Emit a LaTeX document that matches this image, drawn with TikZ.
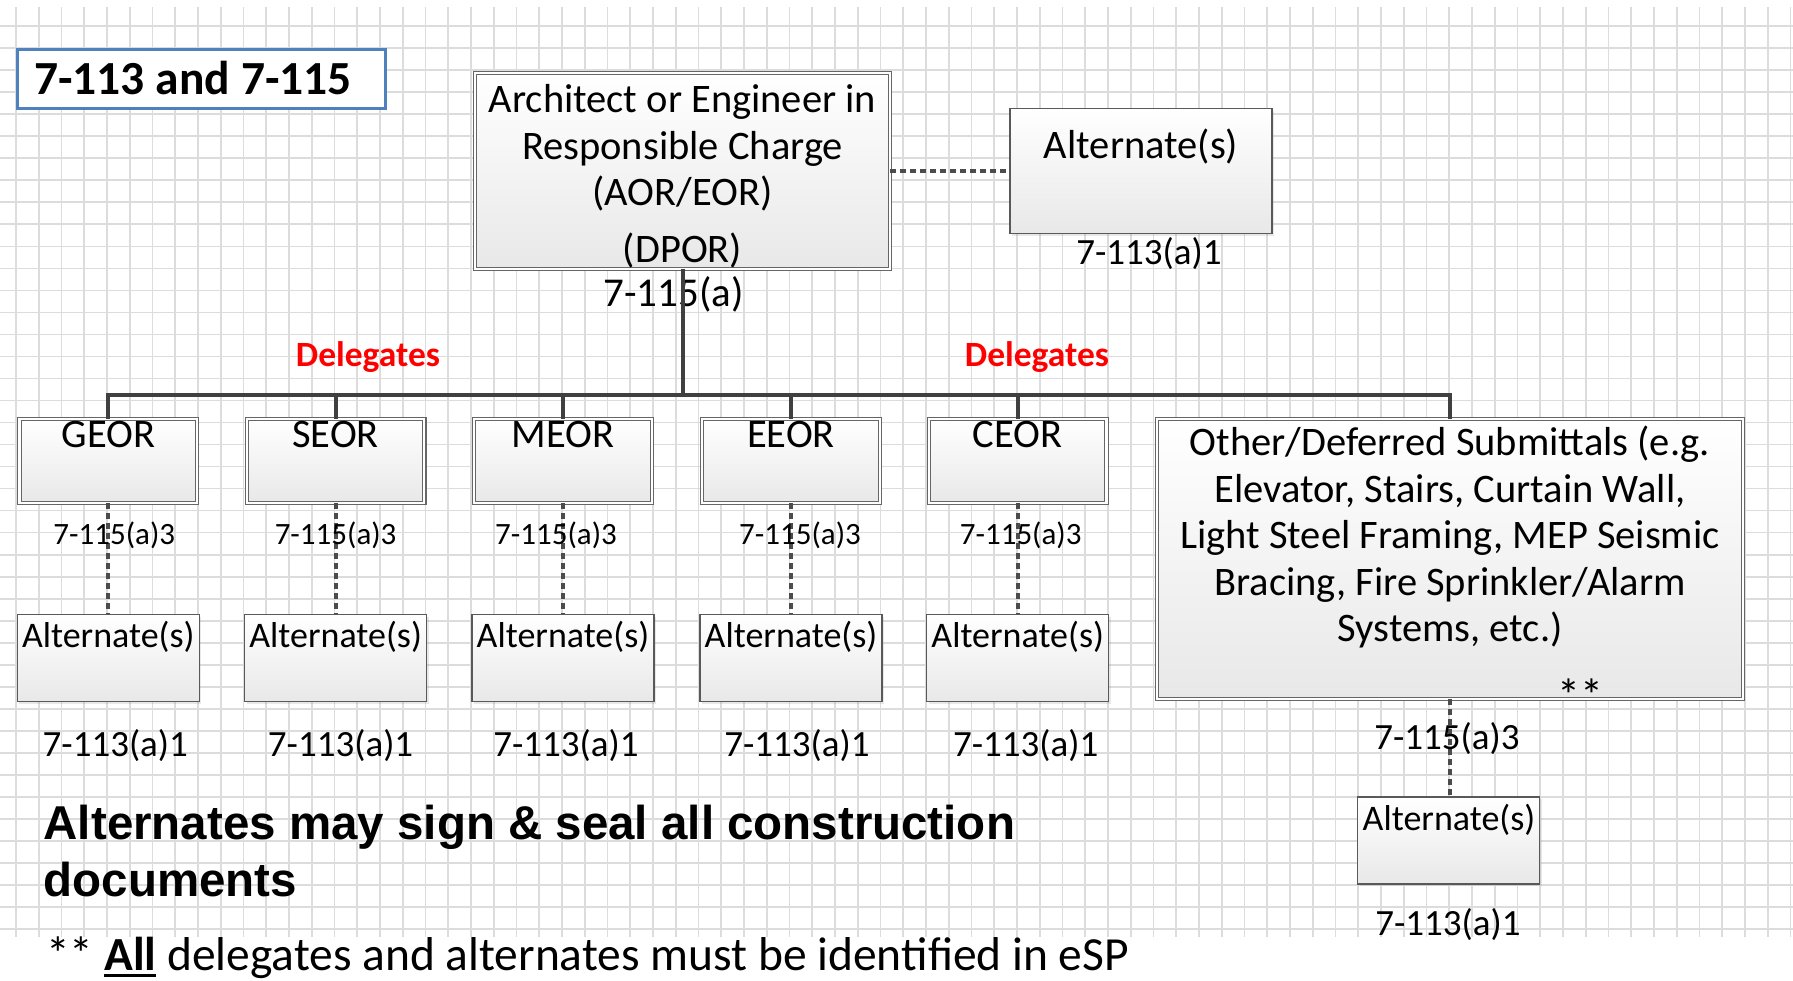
\documentclass[tikz,border=0pt]{standalone}
\usepackage{fontspec}
\setmainfont{Carlito}
\newfontfamily\arialfont{Liberation Sans}
\usepackage{tikz}
\usetikzlibrary{positioning}
\usetikzlibrary{calc}
\usetikzlibrary{shadows}

\definecolor{titleblue}{HTML}{4F81BD}
\definecolor{gridgray}{HTML}{DCDCDC}
\definecolor{delred}{HTML}{FF0000}

\newcommand{\ulbf}[1]{\setbox0=\hbox{\textbf{#1}}\rlap{\rule[-7pt]{\wd0}{3.5pt}}\box0\relax}

\begin{document}
\begin{tikzpicture}[x=1pt, y=-1pt,
    gridline/.style={draw=gridgray, line width=1.6pt},
    shadowed/.style={drop shadow={opacity=0.18, shadow xshift=2pt, shadow yshift=-2pt}},
    dprbox/.style={draw=black!60, double=white, double distance=2.2pt, line width=1.1pt,
                   top color=white, bottom color=black!9, shadowed, inner sep=0pt},
    altbox/.style={draw=black!65, line width=1.2pt, top color=white, bottom color=black!9,
                   shadowed, inner sep=0pt, minimum width=182pt, minimum height=87pt},
    bus/.style={draw=black!75, line width=4pt},
    dotline/.style={draw=black!70, line width=4pt, dash pattern=on 6pt off 4pt},
    txt/.style={inner sep=0pt, anchor=base},
    big/.style={font=\fontsize{40.5}{46.5}\selectfont},
    alttext/.style={txt, font=\fontsize{36}{43}\selectfont},
    ref/.style={txt, font=\fontsize{37}{44}\selectfont},
    smallref/.style={txt, font=\fontsize{31}{37}\selectfont},
    delegate/.style={txt, text=delred, font=\bfseries\fontsize{35.5}{42}\selectfont},
]

    \useasboundingbox (0,0) rectangle (1793,980);

    % Grid paper
    \foreach \k in {0,...,78}
        \draw[gridline] (16+22.75*\k, 7) -- (16+22.75*\k, 937);
    \foreach \k in {0,...,41}
        \draw[gridline] (0, 26+22.03*\k) -- (1793, 26+22.03*\k);

    % Title
    \node[draw=titleblue, line width=3pt, fill=white, minimum width=367.5pt, minimum height=59pt] (title) at (201.25,79) {};
    \node[txt, anchor=base west, font=\bfseries\fontsize{47.5}{57}\selectfont] (titletxt) at (34,94) {7-113 and 7-115};

    % DPOR and its alternate
    \node[dprbox, minimum width=414.6pt, minimum height=195.6pt] (aor) at (682.5,171) {};
    \node[big, align=center, inner sep=0pt] (aortxt) at (682.5,176) {Architect or Engineer in\\Responsible Charge\\(AOR/EOR)\\[10pt](DPOR)};
    \node[txt, font=\fontsize{41}{49}\selectfont] (aorref) at (673.5,306.5) {7-115(a)};

    \node[altbox, minimum width=262pt, minimum height=125pt] (aoralt) at (1141,171) {};
    \node[txt, big] (aoralttxt) at (1141,158) {Alternate(s)};
    \node[ref] (aoraltref) at (1149,264) {7-113(a)1};
    \draw[dotline] (aor) -- (aoralt);

    % Delegates
    \node[delegate] (dlgl) at (368,366) {Delegates};
    \node[delegate] (dlgr) at (1037,366) {Delegates};
    \coordinate (busl) at (108.3,394.5);

    % Other / deferred submittals
    \node[dprbox, minimum width=585.6pt, minimum height=279.6pt] (other) at (1450,559) {};
    \node[big, align=center, inner sep=0pt] (othertxt) at (1450,537) {Other/Deferred Submittals (e.g.\\Elevator, Stairs, Curtain Wall,\\Light Steel Framing, MEP Seismic\\Bracing, Fire Sprinkler/Alarm\\Systems, etc.)};
    \node[txt, font=\fontsize{46}{55}\selectfont] (stars) at (1580,711) {**};
    \node[altbox] (otheralt) at (1448.5,840.5) {};
    \node[alttext] (otheralttxt) at (1449,830) {Alternate(s)};
    \draw[dotline] (other) -- (other |- otheralt.north);
    \node[ref] (otherref) at (1447,749.5) {7-115(a)3};
    \node[ref] (otheraltref) at (1448,935.5) {7-113(a)1};

    % Bus
    \draw[bus] (busl |- 0,419.3) -- (busl) -| (other.north);
    \draw[bus] (aor.south) -- (aor.south |- busl);

    \foreach \n/\t/\x/\da/\db in {geor/GEOR/108.3/6/7, seor/SEOR/335.6/0/5, meor/MEOR/563/-7/3,
                                  eeor/EEOR/791/9/6, ceor/CEOR/1017.7/3/8} {
        \node[dprbox, minimum width=177.5pt, minimum height=83.5pt] (\n) at (\x,461) {};
        \node[txt, big] (\n-txt) at (\x,447) {\t};
        \node[altbox] (\n-alt) at (\x,658) {};
        \node[alttext] (\n-alttxt) at (\x,647) {Alternate(s)};
        \draw[bus] (\n.north) -- (\n.north |- busl);
        \draw[dotline] (\n) -- (\n-alt);
        \node[smallref] (\n-ref) at (\x+\da,544) {7-115(a)3};
        \node[ref] (\n-altref) at (\x+\db,756) {7-113(a)1};
    }

    % Notes
    \node[anchor=north west, align=left, inner sep=0pt, font=\arialfont\bfseries\fontsize{47.5}{57}\selectfont] (note) at (43.5,805) {Alternates may sign \& seal all construction\\documents};
    \node[txt, anchor=base west, font=\fontsize{47.5}{57}\selectfont] (foot) at (46,970) {** \ulbf{All} delegates and alternates must be identified in eSP};

\end{tikzpicture}
\end{document}
